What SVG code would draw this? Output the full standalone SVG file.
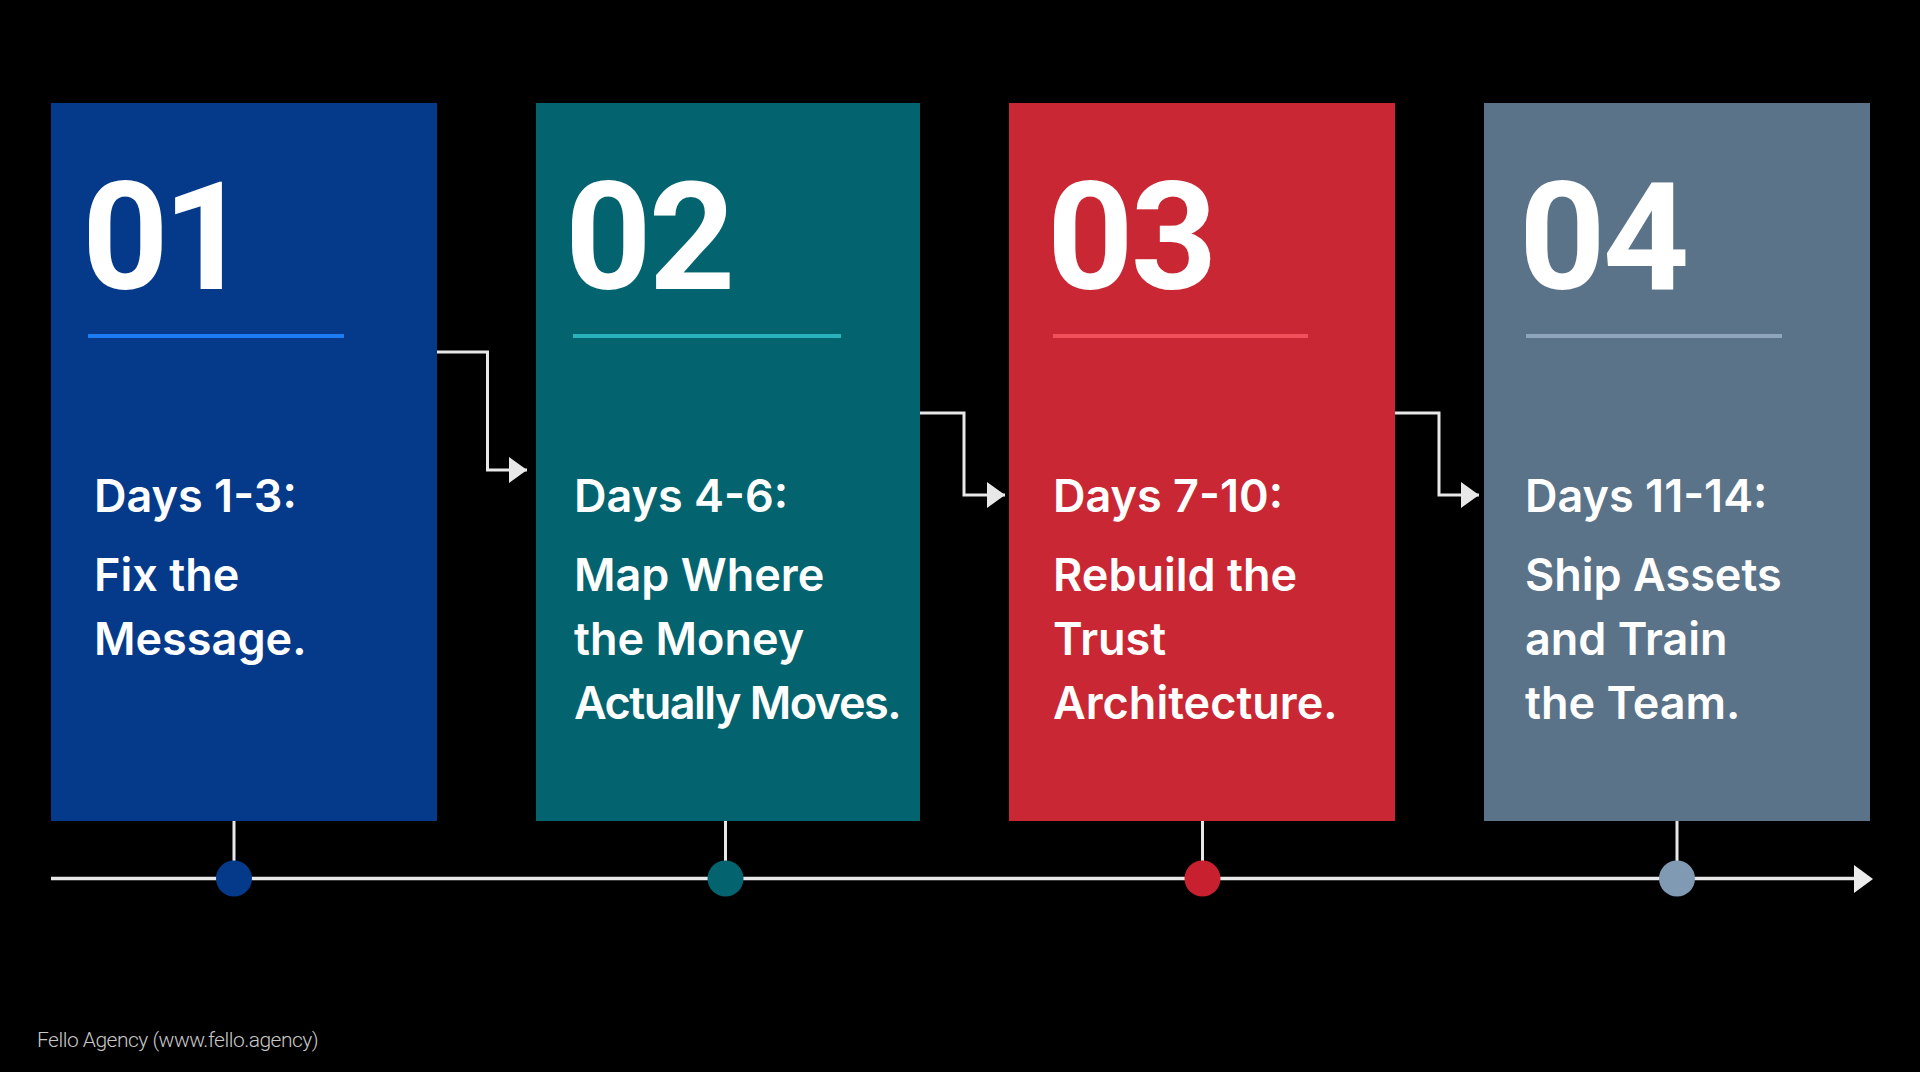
<svg xmlns="http://www.w3.org/2000/svg" width="1920" height="1072" viewBox="0 0 1920 1072">
<defs>
<style>
.num{font-family:Roboto,"Liberation Sans",sans-serif;font-weight:700;font-size:151px;fill:#ffffff;letter-spacing:-3px}
.day{font-family:Inter,"Noto Sans",sans-serif;font-weight:600;font-size:45px;fill:#ffffff}
.txt{font-family:Inter,"Noto Sans",sans-serif;font-weight:600;font-size:45px;fill:#ffffff}
.conn{fill:none;stroke:#e8e8e8;stroke-width:3}
.stem{stroke:#e8e8e8;stroke-width:3}
.foot{font-family:Roboto,"Liberation Sans",sans-serif;font-weight:300;font-size:21px;fill:#c8c8c8;letter-spacing:-0.5px}
</style>
<marker id="ah" markerUnits="userSpaceOnUse" markerWidth="20" markerHeight="28" refX="18" refY="13" orient="auto" viewBox="0 0 20 28">
<path d="M0,0 L18,13 L0,26 z" fill="#e8e8e8"/>
</marker>
</defs>
<rect width="1920" height="1072" fill="#000000"/>

<g id="timeline">
<line x1="51" y1="878.5" x2="1856" y2="878.5" stroke="#e8e8e8" stroke-width="3.5"/>
<path d="M1854,865 L1873,879 L1854,893 z" fill="#ececec"/>
</g>

<g id="connectors">
<path class="conn" d="M437,352 H487.5 V470 H527" marker-end="url(#ah)"/>
<path class="conn" d="M920,413 H964 V495 H1005" marker-end="url(#ah)"/>
<path class="conn" d="M1395,413 H1439 V495 H1479" marker-end="url(#ah)"/>
<line class="stem" x1="234" y1="821" x2="234" y2="862"/>
<line class="stem" x1="725.5" y1="821" x2="725.5" y2="862"/>
<line class="stem" x1="1202.5" y1="821" x2="1202.5" y2="862"/>
<line class="stem" x1="1677" y1="821" x2="1677" y2="862"/>
</g>

<g id="step1">
<rect x="51" y="103" width="386" height="718" fill="#053a8b"/>
<text class="num" x="82" y="289" style="letter-spacing:-6px">01</text>
<rect x="88" y="334" width="256" height="4" fill="#1f7cf5"/>
<text class="day" x="94" y="512">Days 1-3:</text>
<text class="txt" x="94" y="591">Fix the</text>
<text class="txt" x="94" y="655">Message.</text>
<circle cx="234" cy="878.5" r="18" fill="#053a8b"/>
</g>

<g id="step2">
<rect x="536" y="103" width="384" height="718" fill="#03646f"/>
<text class="num" x="565" y="289">02</text>
<rect x="573" y="334" width="268" height="4" fill="#2bb3bb"/>
<text class="day" x="574" y="512">Days 4-6:</text>
<text class="txt" x="574" y="591">Map Where</text>
<text class="txt" x="574" y="655">the Money</text>
<text class="txt" x="574" y="719" style="letter-spacing:-1.5px">Actually Moves.</text>
<circle cx="725.5" cy="878.5" r="18" fill="#03646f"/>
</g>

<g id="step3">
<rect x="1009" y="103" width="386" height="718" fill="#c92733"/>
<text class="num" x="1047" y="289">03</text>
<rect x="1053" y="334" width="255" height="4" fill="#f2505b"/>
<text class="day" x="1053" y="512">Days 7-10:</text>
<text class="txt" x="1053" y="591">Rebuild the</text>
<text class="txt" x="1053" y="655">Trust</text>
<text class="txt" x="1053" y="719">Architecture.</text>
<circle cx="1202.5" cy="878.5" r="18" fill="#c8202f"/>
</g>

<g id="step4">
<rect x="1484" y="103" width="386" height="718" fill="#5a7389"/>
<text class="num" x="1519" y="289">04</text>
<rect x="1526" y="334" width="256" height="4" fill="#8ea5bc"/>
<text class="day" x="1525" y="512">Days 11-14:</text>
<text class="txt" x="1525" y="591">Ship Assets</text>
<text class="txt" x="1525" y="655">and Train</text>
<text class="txt" x="1525" y="719">the Team.</text>
<circle cx="1677" cy="878.5" r="18" fill="#7f9ab2"/>
</g>

<text class="foot" x="37" y="1047">Fello Agency (www.fello.agency)</text>
</svg>
